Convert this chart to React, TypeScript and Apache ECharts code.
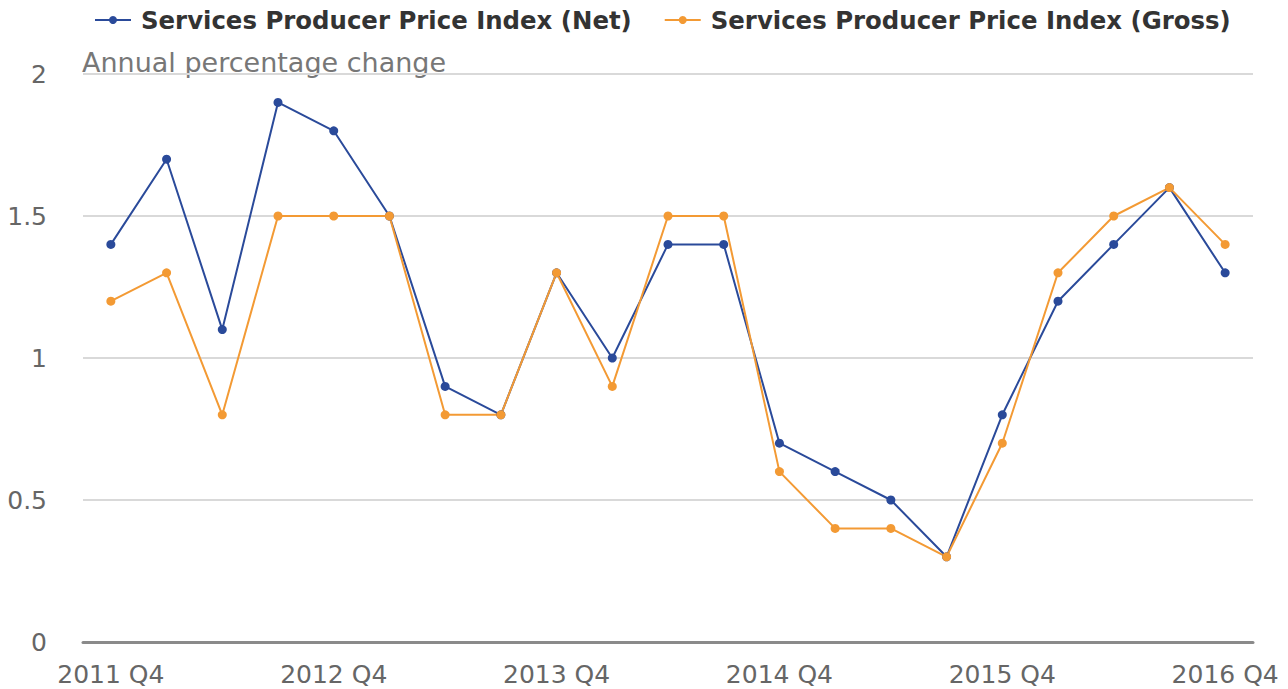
import React, { useEffect, useRef } from "react";
import * as echarts from "echarts";

const categories = [
  "2011 Q4", "2012 Q1", "2012 Q2", "2012 Q3", "2012 Q4", "2013 Q1", "2013 Q2", "2013 Q3",
  "2013 Q4", "2014 Q1", "2014 Q2", "2014 Q3", "2014 Q4", "2015 Q1", "2015 Q2", "2015 Q3",
  "2015 Q4", "2016 Q1", "2016 Q2", "2016 Q3", "2016 Q4",
];
const netValues = [1.4, 1.7, 1.1, 1.9, 1.8, 1.5, 0.9, 0.8, 1.3, 1.0, 1.4, 1.4, 0.7, 0.6, 0.5, 0.3, 0.8, 1.2, 1.4, 1.6, 1.3];
const grossValues = [1.2, 1.3, 0.8, 1.5, 1.5, 1.5, 0.8, 0.8, 1.3, 0.9, 1.5, 1.5, 0.6, 0.4, 0.4, 0.3, 0.7, 1.3, 1.5, 1.6, 1.4];
const seriesNames = ["Services Producer Price Index (Net)", "Services Producer Price Index (Gross)"];
const subtitle = "Annual percentage change";

const FONT = "DejaVu Sans";

export default function App() {
  const ref = useRef<HTMLDivElement>(null);
  useEffect(() => {
    if (!ref.current) return;
    const chart = echarts.init(ref.current, undefined, { renderer: "svg" });
    chart.setOption({
      animation: false,
      textStyle: { fontFamily: FONT },
      legend: {
        top: 3,
        left: 89,
        itemWidth: 36,
        itemHeight: 10,
        itemGap: 32,
        textStyle: { fontFamily: FONT, fontSize: 24.4, fontWeight: "bold", color: "#333", padding: [0, 0, 0, 5] },
        data: seriesNames,
      },
      graphic: [
        {
          type: "text",
          left: 82,
          top: 49,
          style: { text: subtitle, fontFamily: FONT, fontSize: 27, fill: "#777" },
        },
      ],
      grid: { left: 83, right: 35, top: 74, bottom: 47 },
      xAxis: {
        type: "category",
        data: categories,
        boundaryGap: true,
        axisLine: { lineStyle: { color: "#8a8a8a", width: 3 } },
        axisTick: { alignWithLabel: true, interval: 3, length: 20, lineStyle: { color: "#c4d3e3", width: 2 } },
        axisLabel: { interval: 3, fontFamily: FONT, fontSize: 25, color: "#666", margin: 20 },
        splitLine: { show: false },
      },
      yAxis: {
        type: "value",
        min: 0,
        max: 2,
        interval: 0.5,
        axisLine: { show: false },
        axisTick: { show: false },
        axisLabel: { fontFamily: FONT, fontSize: 25, color: "#666", margin: 36 },
        splitLine: { lineStyle: { color: "#d9d9d9", width: 2 } },
      },
      series: [
        {
          name: seriesNames[0],
          type: "line",
          data: netValues,
          symbol: "circle",
          symbolSize: 9,
          lineStyle: { color: "#2a4a9a", width: 2 },
          itemStyle: { color: "#2a4a9a" },
        },
        {
          name: seriesNames[1],
          type: "line",
          data: grossValues,
          symbol: "circle",
          symbolSize: 9,
          lineStyle: { color: "#f39a34", width: 2 },
          itemStyle: { color: "#f39a34" },
        },
      ],
    });
    return () => chart.dispose();
  }, []);
  return <div ref={ref} style={{ width: 1288, height: 689, position: "absolute", left: 0, top: 0 }} />;
}
